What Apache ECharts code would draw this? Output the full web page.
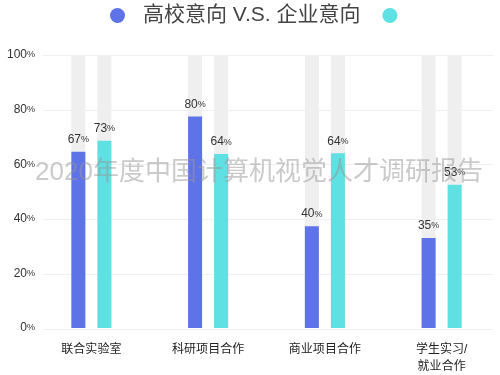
<!DOCTYPE html>
<html>
<head>
<meta charset="utf-8">
<script src="https://cdn.jsdelivr.net/npm/echarts@6/dist/echarts.min.js"></script>
<style>
  html, body { margin: 0; padding: 0; background: #fff; }
  #chart { width: 500px; height: 375px; }
</style>
</head>
<body>
<div id="chart"></div>
<script>
var categories = ['联合实验室', '科研项目合作', '商业项目合作', '学生实习/\n就业合作'];
// bar heights as drawn
var schoolValues = [64.6, 77.5, 37.3, 33.0];
var companyValues = [68.6, 63.7, 64.0, 52.5];
// numbers printed above the bars
var schoolLabels = [67, 80, 40, 35];
var companyLabels = [73, 64, 64, 53];
var yTicks = [0, 20, 40, 60, 80, 100];

var font = '"Liberation Sans", "Noto Sans CJK SC", sans-serif';
var pctRich = {
    n: { fontSize: 12, color: '#333', fontFamily: font },
    p: { fontSize: 9, color: '#333', fontFamily: font }
};

function labelOf(arr) {
    return {
        show: true,
        position: 'top',
        distance: 6,
        formatter: function (p) { return '{n|' + arr[p.dataIndex] + '}{p|%}'; },
        rich: pctRich
    };
}

var myChart = echarts.init(document.getElementById('chart'));
myChart.setOption({
    animation: false,
    legend: {
        top: 0,
        left: 105,
        icon: 'circle',
        itemWidth: 15,
        itemHeight: 15,
        itemGap: 22,
        data: ['高校意向', '企业意向'],
        formatter: function (name) { return name === '高校意向' ? '{t|高校意向 V.S. 企业意向}' : ''; },
        textStyle: {
            rich: { t: { fontSize: 21, color: '#444', fontFamily: font, padding: [0, 0, 0, 13] } }
        }
    },
    grid: [
        { left: 33, right: 0, top: 55, bottom: 46 },
        { left: 43, right: 7, top: 55, bottom: 46 }
    ],
    xAxis: [
        {
            type: 'category',
            gridIndex: 0,
            data: categories,
            axisLine: { show: false },
            axisTick: { show: false },
            axisLabel: { margin: 13, fontSize: 12, lineHeight: 17, color: '#222', fontFamily: font }
        },
        { type: 'category', gridIndex: 1, show: false, data: categories }
    ],
    yAxis: [
        {
            type: 'value',
            gridIndex: 0,
            min: yTicks[0],
            max: yTicks[yTicks.length - 1],
            interval: 20,
            splitLine: { show: false },
            axisLine: { show: false },
            axisTick: { show: false },
            axisLabel: {
                margin: -2,
                formatter: '{n|{value}}{p|%}',
                rich: pctRich
            }
        },
        {
            type: 'value',
            gridIndex: 1,
            min: 0,
            max: 100,
            interval: 20,
            axisLabel: { show: false },
            axisLine: { show: false },
            axisTick: { show: false },
            splitLine: { lineStyle: { color: '#f0f0f0' } }
        }
    ],
    graphic: [{
        type: 'text',
        x: 259,
        y: 160,
        z: 100,
        style: {
            text: '2020年度中国计算机视觉人才调研报告',
            fontSize: 26,
            fontFamily: font,
            align: 'center',
            fill: 'rgba(150,150,150,0.5)'
        }
    }],
    series: [
        {
            name: '高校意向',
            type: 'bar',
            barWidth: 14,
            barGap: '86%',
            data: schoolValues,
            itemStyle: { color: '#5f73e8' },
            showBackground: true,
            backgroundStyle: { color: '#efefef' },
            label: labelOf(schoolLabels)
        },
        {
            name: '企业意向',
            type: 'bar',
            barWidth: 14,
            data: companyValues,
            itemStyle: { color: '#5fe0e3' },
            showBackground: true,
            backgroundStyle: { color: '#efefef' },
            label: labelOf(companyLabels)
        }
    ]
});
</script>
</body>
</html>
